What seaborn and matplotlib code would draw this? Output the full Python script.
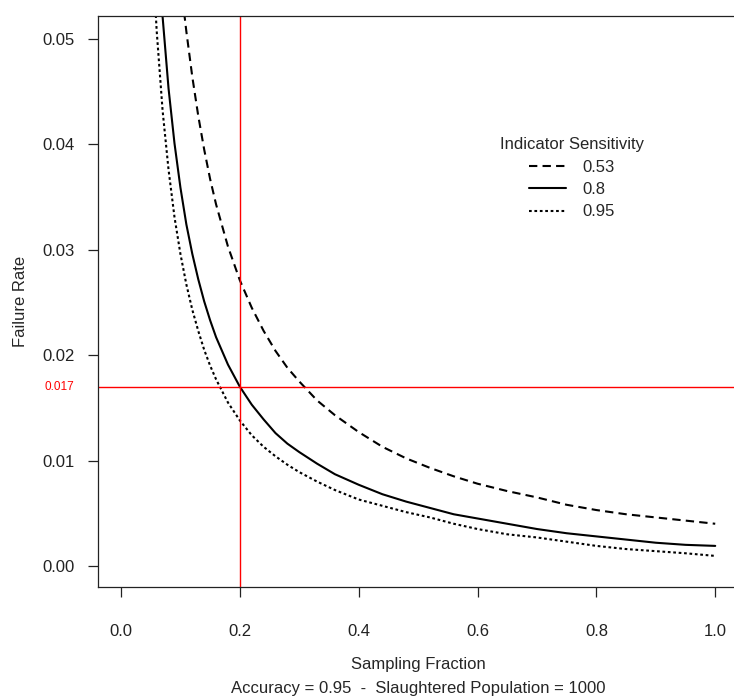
import matplotlib

matplotlib.use("Agg")
import matplotlib.pyplot as plt
import pandas as pd
import seaborn as sns
from matplotlib.ticker import FormatStrFormatter


# sampling fraction grid the curves were read at
fraction = [0.05, 0.06, 0.07, 0.08, 0.09, 0.10, 0.11, 0.12, 0.13, 0.14, 0.15, 0.16, 0.18, 0.20,
            0.22, 0.24, 0.26, 0.28, 0.30, 0.33, 0.36, 0.40, 0.44, 0.48, 0.52, 0.56, 0.60,
            0.65, 0.70, 0.75, 0.80, 0.85, 0.90, 0.95, 1.00]

# failure rate per indicator sensitivity
rate_053 = [0.1138, 0.0945, 0.0808, 0.0705, 0.0624, 0.0555, 0.0507, 0.0464, 0.0427, 0.0395, 0.0367,
            0.0343, 0.0303, 0.0271, 0.0245, 0.0223, 0.0204, 0.0188, 0.0175, 0.0157, 0.0143, 0.0127,
            0.0113, 0.0102, 0.0093, 0.0085, 0.0078, 0.0071, 0.0065, 0.0058, 0.0053, 0.0049, 0.0046,
            0.0043, 0.0040]
rate_080 = [0.0736, 0.0610, 0.0521, 0.0453, 0.0401, 0.0359, 0.0324, 0.0296, 0.0272, 0.0251, 0.0233,
            0.0217, 0.0191, 0.0170, 0.0153, 0.0139, 0.0126, 0.0116, 0.0108, 0.0097, 0.0087, 0.0077,
            0.0068, 0.0061, 0.0055, 0.0049, 0.0045, 0.0040, 0.0035, 0.0031, 0.0028, 0.0025, 0.0022,
            0.0020, 0.0019]
rate_095 = [0.0614, 0.0508, 0.0432, 0.0376, 0.0331, 0.0296, 0.0267, 0.0243, 0.0223, 0.0205, 0.0190,
            0.0177, 0.0155, 0.0138, 0.0124, 0.0113, 0.0104, 0.0096, 0.0089, 0.0080, 0.0072, 0.0063,
            0.0057, 0.0051, 0.0046, 0.0040, 0.0035, 0.0030, 0.0027, 0.0023, 0.0019, 0.0016, 0.0014,
            0.0012, 0.00095]

sensitivities = ["0.53", "0.8", "0.95"]
x_ticks = [0.0, 0.2, 0.4, 0.6, 0.8, 1.0]
y_ticks = [0.00, 0.01, 0.02, 0.03, 0.04, 0.05]

# reference cross-hair
ref_fraction = 0.2
ref_rate = 0.017

sns.set_style("ticks")
plt.rcParams["font.family"] = ["Liberation Sans", "DejaVu Sans"]

W, H = 734, 698
fig = plt.figure(figsize=(W / 100, H / 100), dpi=100)
ax = fig.add_axes([98 / W, (H - 587) / H, (739 - 98) / W, (587 - 15.7) / H])

series = {"0.53": rate_053, "0.8": rate_080, "0.95": rate_095}
dash_styles = {"0.53": (4, 2.5), "0.8": None, "0.95": (1.3, 1.3)}

for name in sensitivities:
    df = pd.DataFrame({"fraction": fraction, "rate": series[name]})
    sns.lineplot(data=df, x="fraction", y="rate", ax=ax, color="black", lw=1.5, label=name)
    line = ax.lines[-1]
    if dash_styles[name] is not None:
        line.set_dashes(dash_styles[name])

ax.axvline(ref_fraction, color="#ff0000", lw=1.0)
ax.axhline(ref_rate, color="#ff0000", lw=1.0)

ax.set_xlim(-0.0387, 1.04)
ax.set_ylim(-0.002, 0.0522)
ax.set_xticks(x_ticks)
ax.set_yticks(y_ticks)
ax.xaxis.set_major_formatter(FormatStrFormatter("%.1f"))
ax.yaxis.set_major_formatter(FormatStrFormatter("%.2f"))
ax.tick_params(axis="both", length=7.5, width=0.9, color="#222222", labelsize=12, labelcolor="#222222")
ax.tick_params(axis="x", pad=19)
ax.tick_params(axis="y", pad=9)
for sp in ax.spines.values():
    sp.set_color("#222222")
    sp.set_linewidth(0.9)

ax.set_xlabel("")
ax.set_ylabel("")
ax.annotate(f"{ref_rate:.3f}", xy=(0, ref_rate), xycoords=("axes fraction", "data"),
            xytext=(-17, 0), textcoords="offset points", ha="right", va="center",
            color="#ff0000", fontsize=8.5)

fig.text((98 + 739) / 2 / W, 1 - 665 / H, "Sampling Fraction", ha="center", va="center", fontsize=12)
fig.text((98 + 739) / 2 / W, 1 - 688 / H, "Accuracy = 0.95  -  Slaughtered Population = 1000",
         ha="center", va="center", fontsize=12)
fig.text(21 / W, 1 - 301 / H, "Failure Rate", ha="center", va="center", rotation=90, fontsize=12)

leg = ax.legend(title="Indicator Sensitivity", frameon=False, fontsize=12, title_fontsize=12,
                loc="upper center", bbox_to_anchor=((572 - 98) / 641, (587 - 137) / 571.3),
                handlelength=2.2, handletextpad=1.0, labelspacing=0.45, borderpad=0, borderaxespad=0)

fig.savefig("out.png", dpi=100)
